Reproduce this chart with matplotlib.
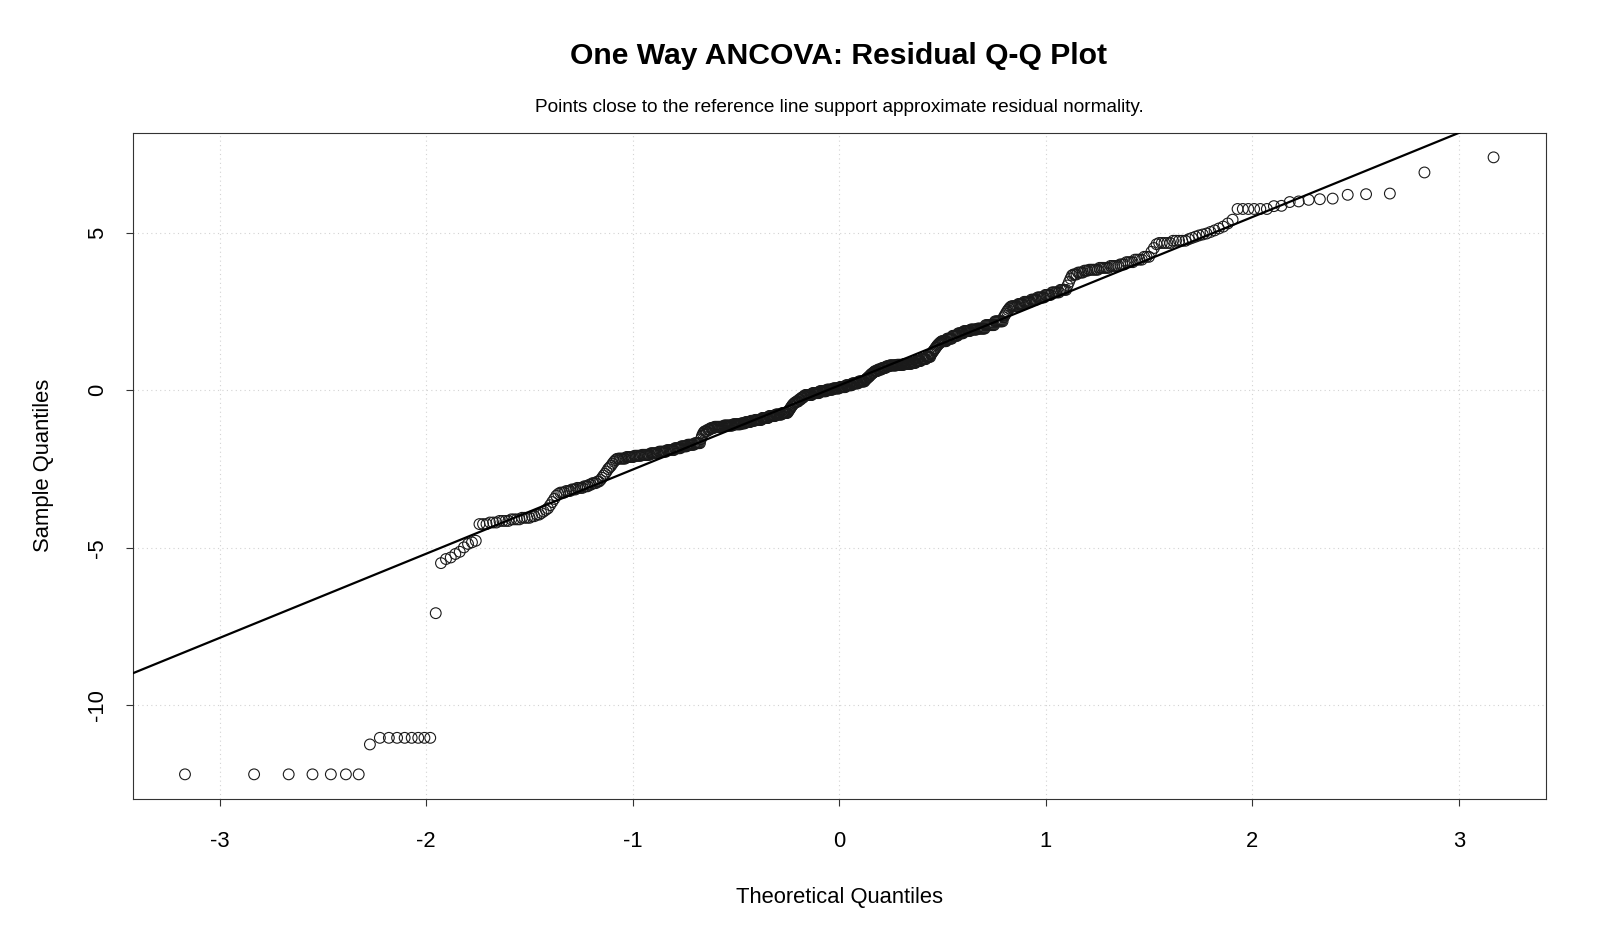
import numpy as np
import matplotlib
matplotlib.use("Agg")
import matplotlib.pyplot as plt
from statistics import NormalDist

plt.rcParams['font.family'] = ['Liberation Sans', 'DejaVu Sans']
plt.rcParams['axes.unicode_minus'] = False

resid_value = [
    -12.2, -11.25, -11.04, -7.08,
    -5.49, -5.36, -5.31, -5.20, -5.13, -4.99, -4.88, -4.83, -4.78,
    -4.25, -4.20, -4.15, -4.10, -4.05, -4.00, -3.95,
    -3.90, -3.85, -3.80, -3.75,
    -3.65, -3.55, -3.45, -3.35, -3.29,
    -3.25, -3.20,
    -3.15, -3.10, -3.05,
    -3.00, -2.95, -2.90,
    -2.85, -2.78, -2.71,
    -2.65, -2.58, -2.50, -2.45, -2.40, -2.33, -2.27, -2.22, -2.18,
    -2.17, -2.12, -2.08,
    -2.05, -2.00, -1.95, -1.90,
    -1.84, -1.78, -1.73, -1.68,
    -1.55, -1.45, -1.38, -1.33,
    -1.30, -1.25, -1.20,
    -1.16, -1.12, -1.08,
    -1.05, -1.01, -0.97,
    -0.94, -0.88, -0.82, -0.77, -0.72,
    -0.68, -0.64, -0.60, -0.56, -0.52, -0.48, -0.45, -0.42, -0.40, -0.38,
    -0.36, -0.30, -0.24, -0.19,
    -0.15, -0.09, -0.03, 0.02, 0.06,
    0.10, 0.16, 0.22, 0.28,
    0.33, 0.35, 0.37, 0.40, 0.42, 0.44, 0.47, 0.50, 0.52, 0.54, 0.56, 0.58,
    0.61, 0.66, 0.71, 0.76,
    0.79, 0.81, 0.84,
    0.87, 0.93, 0.99, 1.06,
    1.14, 1.18, 1.22, 1.26, 1.30, 1.34, 1.38, 1.42, 1.45, 1.48, 1.51, 1.53,
    1.56, 1.64, 1.73, 1.81, 1.88,
    1.93, 1.96, 2.07, 2.19,
    2.32, 2.38, 2.44, 2.50, 2.55, 2.60, 2.64,
    2.67, 2.74, 2.81, 2.88,
    2.95, 3.03, 3.11, 3.19,
    3.33, 3.44, 3.55, 3.65,
    3.68, 3.74, 3.80,
    3.83, 3.89, 3.95,
    4.00, 4.07, 4.15, 4.24,
    4.40, 4.52, 4.64,
    4.68, 4.75,
    4.80, 4.84, 4.88, 4.92, 4.95, 4.98,
    5.03, 5.08, 5.14, 5.20, 5.30, 5.42,
    5.76,
    5.85, 5.86, 5.98, 6.00, 6.05, 6.07, 6.09, 6.21, 6.23, 6.25, 6.92, 7.40,
]
resid_count = [
    7, 1, 8, 1,
    1, 1, 1, 1, 1, 1, 1, 1, 1,
    3, 3, 4, 4, 4, 2, 2,
    1, 1, 1, 1,
    1, 1, 1, 1, 1,
    3, 3,
    3, 4, 3,
    2, 3, 2,
    1, 1, 1,
    1, 1, 1, 1, 1, 1, 1, 1, 1,
    6, 6, 6,
    7, 7, 7, 7,
    6, 6, 7, 6,
    1, 1, 1, 1,
    3, 3, 4,
    10, 10, 9,
    5, 6, 5,
    8, 8, 8, 8, 7,
    1, 1, 1, 1, 1, 1, 1, 1, 1, 1,
    3, 3, 3, 2,
    9, 9, 9, 8, 8,
    8, 8, 8, 8,
    1, 1, 1, 1, 1, 1, 1, 1, 1, 1, 1, 1,
    4, 5, 5, 4,
    9, 9, 9,
    5, 6, 6, 5,
    1, 1, 1, 1, 1, 1, 1, 1, 1, 1, 1, 1,
    6, 6, 6, 6, 7,
    7, 8, 9, 8,
    1, 1, 1, 1, 1, 1, 1,
    6, 5, 6, 5,
    6, 5, 6, 5,
    1, 1, 1, 1,
    3, 4, 3,
    6, 6, 5,
    3, 4, 4, 3,
    1, 1, 1,
    5, 5,
    1, 1, 1, 1, 1, 1,
    1, 1, 1, 1, 1, 1,
    6,
    1, 1, 1, 1, 1, 1, 1, 1, 1, 1, 1, 1,
]

x_ticks = [-3, -2, -1, 0, 1, 2, 3]
y_ticks = [-10, -5, 0, 5]

title = "One Way ANCOVA: Residual Q-Q Plot"
subtitle = "Points close to the reference line support approximate residual normality."

assert len(resid_value) == len(resid_count)
sample = np.repeat(resid_value, resid_count)
n = len(sample)

# theoretical quantiles, same plotting positions as R's ppoints()
nd = NormalDist()
probs = (np.arange(1, n + 1) - 0.5) / n
theo = np.array([nd.inv_cdf(p) for p in probs])

# reference line through the quartiles (like qqline)
q1, q3 = np.quantile(sample, [0.25, 0.75])
z1, z3 = nd.inv_cdf(0.25), nd.inv_cdf(0.75)
slope = (q3 - q1) / (z3 - z1)
intercept = q1 - slope * z1

fig = plt.figure(figsize=(16, 9.33), dpi=100)
ax = fig.add_axes([0.0829, 0.1436, 0.8833, 0.7142])

ax.scatter(theo, sample, s=60, facecolors='none', edgecolors='#1a1a1a',
           linewidths=0.8, zorder=3)
ax.axline((0, intercept), slope=slope, color='black', lw=1.6, zorder=4)

# 4% padding on each side, like base R
xpad = 0.04 * (theo.max() - theo.min())
ypad = 0.04 * (sample.max() - sample.min())
ax.set_xlim(theo.min() - xpad, theo.max() + xpad)
ax.set_ylim(sample.min() - ypad, sample.max() + ypad)

ax.set_xticks(x_ticks)
ax.set_yticks(y_ticks)
ax.grid(True, color='#d3d3d3', linestyle=(0, (1, 3)), lw=0.8)
ax.set_axisbelow(True)

for sp in ax.spines.values():
    sp.set_linewidth(0.8)
    sp.set_color('#333333')

ax.tick_params(axis='both', length=5, width=0.8, labelsize=15.8, color='#333333')
ax.tick_params(axis='x', pad=18)
ax.tick_params(axis='y', pad=13, labelrotation=90)
for lab in ax.get_yticklabels():
    lab.set_va('center')

fig.text(839 / 1600, 1 - 56 / 933, title, ha='center', va='center',
         fontsize=21.7, fontweight='bold')
fig.text(839 / 1600, 1 - 107 / 933, subtitle, ha='center', va='center',
         fontsize=13.7)
fig.text(839 / 1600, 1 - 897 / 933, "Theoretical Quantiles", ha='center',
         va='center', fontsize=15.8)
fig.text(44 / 1600, 1 - 465 / 933, "Sample Quantiles", ha='center',
         va='center', rotation=90, fontsize=15.8)

fig.savefig("out.png", dpi=100, facecolor='white')
